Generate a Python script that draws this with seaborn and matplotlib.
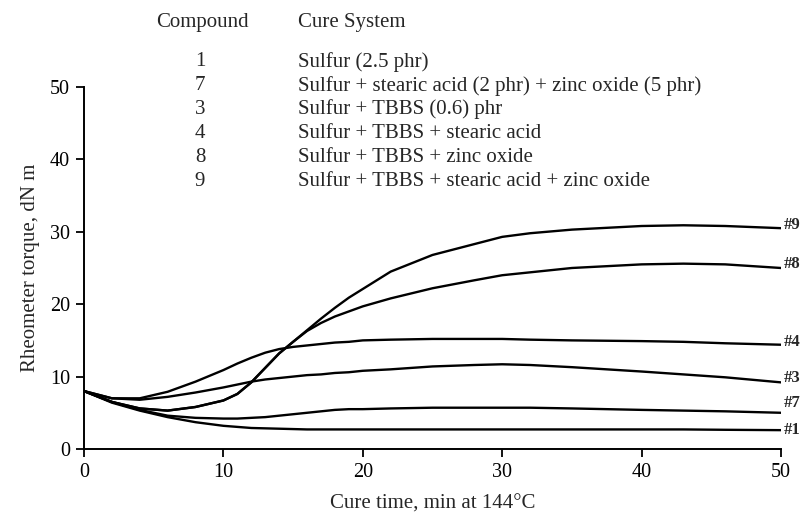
"""Rheometer cure curves for six sulfur cure systems (144 C)."""

import matplotlib

matplotlib.use("Agg")
import matplotlib.pyplot as plt
import pandas as pd
import seaborn as sns

# cure time, min
time = [0, 2, 4, 6, 8, 10, 11, 12, 13, 14, 15, 16, 17, 18, 19, 20,
        22, 25, 28, 30, 32, 35, 40, 43, 46, 50]

# rheometer torque, dN m
torque_1 = [8, 6.4, 5.3, 4.4, 3.7, 3.2, 3.05, 2.9, 2.85, 2.8, 2.75, 2.7, 2.7,
            2.7, 2.7, 2.7, 2.7, 2.7, 2.7, 2.7, 2.7, 2.7, 2.7, 2.7, 2.65, 2.6]
torque_7 = [8, 6.5, 5.4, 4.6, 4.3, 4.2, 4.2, 4.3, 4.4, 4.6, 4.8, 5.0, 5.2,
            5.4, 5.5, 5.5, 5.6, 5.7, 5.7, 5.7, 5.7, 5.6, 5.4, 5.3, 5.2, 5.0]
torque_3 = [8, 7.0, 6.8, 7.2, 7.8, 8.5, 8.9, 9.3, 9.6, 9.8, 10.0, 10.2, 10.3,
            10.5, 10.6, 10.8, 11.0, 11.4, 11.6, 11.7, 11.6, 11.3, 10.7, 10.3,
            9.9, 9.2]
torque_4 = [8, 7.0, 7.0, 7.9, 9.3, 10.9, 11.8, 12.6, 13.3, 13.8, 14.1, 14.3,
            14.5, 14.7, 14.8, 15.0, 15.1, 15.2, 15.2, 15.2, 15.1, 15.0, 14.9,
            14.8, 14.6, 14.4]
torque_8 = [8, 6.5, 5.6, 5.3, 5.8, 6.7, 7.6, 9.2, 11.2, 13.2, 14.8, 16.3, 17.4,
            18.3, 19.0, 19.7, 20.8, 22.2, 23.3, 24.0, 24.4, 25.0, 25.5, 25.6,
            25.5, 25.0]
torque_9 = [8, 6.5, 5.6, 5.3, 5.8, 6.7, 7.6, 9.2, 11.2, 13.2, 14.8, 16.4, 18.0,
            19.5, 20.9, 22.1, 24.5, 26.8, 28.3, 29.3, 29.8, 30.3, 30.8, 30.9,
            30.8, 30.5]

compounds = ["1", "7", "3", "4", "8", "9"]
cure_systems = [
    "Sulfur (2.5 phr)",
    "Sulfur + stearic acid (2 phr) + zinc oxide (5 phr)",
    "Sulfur + TBBS (0.6) phr",
    "Sulfur + TBBS + stearic acid",
    "Sulfur + TBBS + zinc oxide",
    "Sulfur + TBBS + stearic acid + zinc oxide",
]
curves = [torque_1, torque_7, torque_3, torque_4, torque_8, torque_9]

x_ticks = [0, 10, 20, 30, 40, 50]
y_ticks = [0, 10, 20, 30, 40, 50]

# end-label nudges in points (labels sit a bit above some line ends)
label_nudge = {"1": 0, "7": 7, "3": 3, "4": 2, "8": 3, "9": 2}

sns.set_theme(style="ticks")
plt.rcParams["font.family"] = ["Liberation Serif", "DejaVu Serif"]

rows = []
for comp, vals in zip(compounds, curves):
    for t, v in zip(time, vals):
        rows.append({"time": t, "torque": v, "compound": comp})
df = pd.DataFrame(rows)

fig = plt.figure(figsize=(8.03, 5.13), dpi=100)
ax = fig.add_axes([0.1046, 0.1248, 0.8680, 0.7056])

sns.lineplot(
    data=df, x="time", y="torque", hue="compound",
    palette={c: "black" for c in compounds},
    estimator=None, sort=False, legend=False, linewidth=1.7, ax=ax,
)

for comp, vals in zip(compounds, curves):
    ax.annotate(
        f"#{comp}", xy=(time[-1], vals[-1]), xytext=(2, label_nudge[comp]),
        textcoords="offset points", va="center", ha="left",
        fontsize=12, fontweight="bold", annotation_clip=False,
    )

ax.set_xlim(0, 50)
ax.set_ylim(0, 50)
ax.set_xticks(x_ticks)
ax.set_yticks(y_ticks)
ax.tick_params(axis="both", labelsize=14.5, length=6, width=1.3, pad=4,
               colors="black")
for side in ("left", "bottom"):
    ax.spines[side].set_linewidth(1.4)
    ax.spines[side].set_color("black")
sns.despine(ax=ax)
ax.set_xlabel("Cure time, min at 144\u00b0C", fontsize=15, labelpad=9)
ax.set_ylabel("Rheometer torque, dN m", fontsize=15, labelpad=7)

# compound / cure system key at the top
fig.text(0.2515, 1 - 22 / 513, "Compound", ha="center", va="center", fontsize=15)
fig.text(0.371, 1 - 22 / 513, "Cure System", ha="left", va="center", fontsize=15)
row_y = [62, 86, 109, 133, 157, 181]
for comp, system, py in zip(compounds, cure_systems, row_y):
    fig.text(0.249, 1 - py / 513, comp, ha="center", va="center", fontsize=15)
    fig.text(0.371, 1 - py / 513, system, ha="left", va="center", fontsize=15)

fig.savefig("out.png", dpi=100)
